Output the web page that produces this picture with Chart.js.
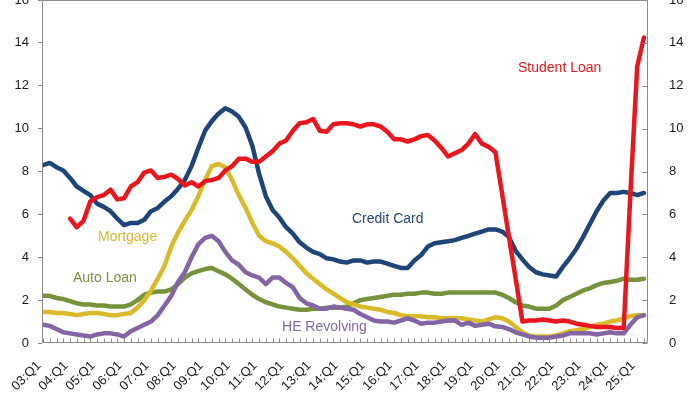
<!DOCTYPE html>
<html><head><meta charset="utf-8">
<script src="https://cdn.jsdelivr.net/npm/chart.js@4/dist/chart.umd.min.js"></script>
<style>html,body{margin:0;padding:0;background:#fff;overflow:hidden}#wrap{position:relative;width:700px;height:394px}</style>
</head><body><div id="wrap"><canvas id="c" width="700" height="394"></canvas></div>
<script>
const quarters = [
'03:Q1','03:Q2','03:Q3','03:Q4','04:Q1','04:Q2','04:Q3','04:Q4','05:Q1','05:Q2','05:Q3','05:Q4',
'06:Q1','06:Q2','06:Q3','06:Q4','07:Q1','07:Q2','07:Q3','07:Q4','08:Q1','08:Q2','08:Q3','08:Q4',
'09:Q1','09:Q2','09:Q3','09:Q4','10:Q1','10:Q2','10:Q3','10:Q4','11:Q1','11:Q2','11:Q3','11:Q4',
'12:Q1','12:Q2','12:Q3','12:Q4','13:Q1','13:Q2','13:Q3','13:Q4','14:Q1','14:Q2','14:Q3','14:Q4',
'15:Q1','15:Q2','15:Q3','15:Q4','16:Q1','16:Q2','16:Q3','16:Q4','17:Q1','17:Q2','17:Q3','17:Q4',
'18:Q1','18:Q2','18:Q3','18:Q4','19:Q1','19:Q2','19:Q3','19:Q4','20:Q1','20:Q2','20:Q3','20:Q4',
'21:Q1','21:Q2','21:Q3','21:Q4','22:Q1','22:Q2','22:Q3','22:Q4','23:Q1','23:Q2','23:Q3','23:Q4',
'24:Q1','24:Q2','24:Q3','24:Q4','25:Q1','25:Q2'];

const creditCard = [8.3,8.4,8.2,8.05,7.7,7.3,7.1,6.9,6.5,6.35, 6.15,5.8,5.5,5.6,5.6,5.75,6.15,6.3,6.6,6.85,
 7.2,7.6,8.25,9.1,9.9,10.35,10.7,10.95,10.8,10.55, 10.05,9.2,7.9,6.85,6.2,5.85,5.4,5.1,4.7,4.45,
 4.25,4.15,3.95,3.9,3.8,3.75,3.85,3.85,3.75,3.8, 3.8,3.7,3.6,3.5,3.5,3.85,4.1,4.5,4.65,4.7,
 4.75,4.8,4.9,5.0,5.1,5.2,5.3,5.3,5.2,4.95, 4.3,3.9,3.55,3.3,3.2,3.15,3.1,3.55,3.95,4.4,
 4.95,5.55,6.15,6.65,7.0,7.0,7.05,7.0,6.9,7.0];

const studentLoan = [null,null,null,null,5.8,5.4,5.7,6.6,6.8,6.9, 7.15,6.7,6.75,7.3,7.5,7.95,8.05,7.7,7.75,7.85,
 7.65,7.35,7.5,7.3,7.55,7.6,7.7,8.05,8.25,8.6, 8.6,8.45,8.45,8.7,8.95,9.3,9.45,9.9,10.25,10.3,
 10.45,9.9,9.85,10.2,10.25,10.25,10.2,10.1,10.2,10.2, 10.1,9.85,9.5,9.5,9.4,9.5,9.65,9.7,9.45,9.1,
 8.7,8.85,9.0,9.3,9.75,9.3,9.15,8.9,6.95,4.95, 3.0,1.0,1.05,1.05,1.1,1.05,1.0,1.05,1.0,0.9,
 0.85,0.8,0.75,0.75,0.75,0.7,0.7,7.0,12.9,14.25];

const mortgage = [1.45,1.45,1.4,1.4,1.35,1.3,1.35,1.4,1.4,1.35, 1.3,1.3,1.35,1.4,1.65,2.0,2.45,3.0,3.6,4.5,
 5.15,5.7,6.2,6.85,7.6,8.25,8.35,8.2,7.6,6.9, 6.3,5.6,5.0,4.75,4.65,4.5,4.25,3.95,3.6,3.25,
 3.0,2.75,2.5,2.3,2.1,1.9,1.8,1.7,1.65,1.6, 1.55,1.45,1.4,1.3,1.25,1.25,1.25,1.2,1.2,1.15,
 1.15,1.15,1.15,1.1,1.05,1.0,1.1,1.2,1.15,1.0, 0.75,0.5,0.35,0.3,0.3,0.3,0.35,0.45,0.55,0.6,
 0.65,0.75,0.85,0.9,1.0,1.05,1.15,1.25,1.3,1.3];

const autoLoan = [2.2,2.2,2.1,2.05,1.95,1.85,1.8,1.8,1.75,1.75, 1.7,1.7,1.7,1.8,2.0,2.25,2.35,2.4,2.4,2.5,
 2.75,3.05,3.25,3.35,3.45,3.5,3.35,3.2,3.0,2.75, 2.5,2.25,2.05,1.9,1.8,1.7,1.65,1.6,1.55,1.55,
 1.6,1.6,1.65,1.65,1.65,1.7,1.85,2.0,2.05,2.1, 2.15,2.2,2.25,2.25,2.3,2.3,2.35,2.35,2.3,2.3,
 2.35,2.35,2.35,2.35,2.35,2.35,2.35,2.35,2.25,2.1, 1.9,1.75,1.7,1.6,1.6,1.6,1.75,2.0,2.15,2.3,
 2.45,2.55,2.7,2.8,2.85,2.9,3.0,2.95,2.95,3.0];

const heRevolving = [0.85,0.8,0.65,0.5,0.45,0.4,0.35,0.3,0.4,0.45, 0.45,0.4,0.3,0.55,0.7,0.85,1.0,1.3,1.75,2.2,
 2.85,3.3,4.0,4.6,4.9,5.0,4.75,4.25,3.85,3.65, 3.3,3.15,3.05,2.75,3.05,3.05,2.8,2.6,2.1,1.85,
 1.75,1.6,1.6,1.7,1.65,1.6,1.55,1.35,1.2,1.05, 1.0,1.0,0.95,1.05,1.15,1.05,0.9,0.95,0.95,1.0,
 1.05,1.05,0.85,0.95,0.8,0.85,0.9,0.78,0.75,0.65, 0.5,0.4,0.3,0.25,0.25,0.25,0.3,0.35,0.45,0.45,
 0.45,0.45,0.4,0.45,0.5,0.45,0.45,0.85,1.2,1.3];

const yTicks = [0,2,4,6,8,10,12,14,16];

const C_CC = '#1F4478', C_SL = '#E8171D', C_MO = '#D9BB2A', C_AU = '#76923C', C_HE = '#8365A6';

// series name labels, anchored at (quarter index, value)
const seriesLabels = [
  {text:'Student Loan', color:C_SL, x:70.35, y:12.83},
  {text:'Credit Card',  color:C_CC, x:45.76, y:5.78},
  {text:'Mortgage',     color:C_MO, x:8.15,  y:4.94},
  {text:'Auto Loan',    color:C_AU, x:4.44,  y:3.03},
  {text:'HE Revolving', color:C_HE, x:35.4,  y:0.75}
];

const FONT = "'Liberation Sans', Arial, sans-serif";
const toPts = arr => arr.map((v,i)=>({x:i,y:v}));

const decor = {
  id:'decor',
  afterDatasetsDraw(chart){
    const {ctx, chartArea:a, scales} = chart;
    const x = scales.x, y = scales.y;
    ctx.save();
    ctx.strokeStyle = '#8a8a8a';
    ctx.lineWidth = 1;
    const L = Math.round(a.left)+0.5, R = Math.round(a.right)-0.5, T = Math.round(a.top)+0.5, B = Math.round(a.bottom)-0.5;
    ctx.beginPath();
    ctx.moveTo(L,T); ctx.lineTo(R,T); ctx.lineTo(R,B); ctx.lineTo(L,B); ctx.closePath();
    ctx.stroke();
    ctx.beginPath();
    quarters.forEach((q,i)=>{
      const px = Math.round(x.getPixelForValue(i))+0.5;
      ctx.moveTo(px,B); ctx.lineTo(px,B-4);
    });
    yTicks.forEach(v=>{
      const py = Math.round(y.getPixelForValue(v))+0.5;
      ctx.moveTo(R,py); ctx.lineTo(R-5,py);
    });
    ctx.stroke();
    ctx.font = '14px ' + FONT;
    ctx.textAlign = 'left';
    ctx.textBaseline = 'middle';
    seriesLabels.forEach(s=>{
      ctx.fillStyle = s.color;
      ctx.fillText(s.text, x.getPixelForValue(s.x), y.getPixelForValue(s.y));
    });
    ctx.restore();
  }
};

const ds = (label, data, color, order) => ({
  label, data: toPts(data), borderColor: color, backgroundColor: color,
  borderWidth: 4.5, pointRadius: 0, tension: 0, fill: false, spanGaps: false,
  borderJoinStyle: 'round', borderCapStyle: 'round', order
});

new Chart(document.getElementById('c'), {
  type: 'line',
  data: {
    datasets: [
      ds('Student Loan', studentLoan, C_SL, 0),
      ds('HE Revolving', heRevolving, C_HE, 1),
      ds('Mortgage', mortgage, C_MO, 2),
      ds('Credit Card', creditCard, C_CC, 3),
      ds('Auto Loan', autoLoan, C_AU, 4)
    ]
  },
  options: {
    responsive: false, animation: false, devicePixelRatio: 1,
    layout: { padding: 0 },
    plugins: { legend: { display: false }, tooltip: { enabled: false } },
    scales: {
      x: {
        type: 'linear', position: 'bottom', min: -0.15, max: 89.6,
        grid: { display: false }, border: { display: false },
        afterBuildTicks: s => { s.ticks = quarters.map((q,i)=>({value:i})); },
        afterFit: s => { s.height = 51; s.paddingLeft = 0; s.paddingRight = 0; },
        ticks: {
          autoSkip: false, minRotation: 45, maxRotation: 45, padding: 7, labelOffset: -4,
          color: '#1a1a1a', font: { family: FONT, size: 13 },
          callback: v => (Number.isInteger(v) && v % 4 === 0) ? quarters[v] : ''
        }
      },
      y: {
        position: 'left', min: 0, max: 16,
        afterBuildTicks: s => { s.ticks = yTicks.map(v=>({value:v})); },
        afterFit: s => { s.width = 42; s.paddingTop = 0; s.paddingBottom = 0; },
        grid: { drawOnChartArea: false, drawTicks: true, tickLength: 4, color: '#8a8a8a' },
        border: { display: false },
        ticks: { padding: 9, color: '#1a1a1a', font: { family: FONT, size: 13 } }
      },
      y2: {
        position: 'right', min: 0, max: 16,
        afterBuildTicks: s => { s.ticks = yTicks.map(v=>({value:v})); },
        afterFit: s => { s.width = 52; s.paddingTop = 0; s.paddingBottom = 0; },
        grid: { display: false }, border: { display: false },
        ticks: { padding: 13, color: '#1a1a1a', font: { family: FONT, size: 13 } }
      }
    }
  },
  plugins: [decor]
});
</script></body></html>
